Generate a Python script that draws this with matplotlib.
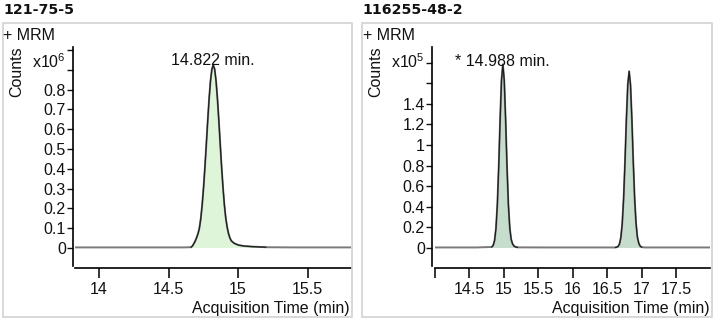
"""
Two MRM chromatograms side by side (121-75-5 and 116255-48-2)
"""

import matplotlib
matplotlib.use('Agg')
import matplotlib.pyplot as plt
from matplotlib.patches import Rectangle

# Chromatogram 1: 121-75-5 (counts x10^6)
left_name = '121-75-5'
left_time = [13.82, 14.30, 14.60, 14.662, 14.672, 14.682, 14.692, 14.702, 14.712, 14.722,
             14.732, 14.742, 14.752, 14.762, 14.772, 14.782, 14.792, 14.802, 14.812, 14.822,
             14.832, 14.842, 14.852, 14.862, 14.872, 14.882, 14.892, 14.902, 14.912, 14.922,
             14.932, 14.942, 14.952, 14.972, 15.002, 15.042, 15.10, 15.20, 15.40, 15.82]
left_counts = [0.003, 0.003, 0.003, 0.004, 0.010, 0.022, 0.035, 0.052, 0.072, 0.100,
               0.148, 0.217, 0.305, 0.409, 0.525, 0.643, 0.754, 0.844, 0.903, 0.924,
               0.903, 0.844, 0.754, 0.643, 0.525, 0.409, 0.305, 0.217, 0.150, 0.105,
               0.072, 0.050, 0.036, 0.024, 0.015, 0.010, 0.007, 0.004, 0.003, 0.003]
left_rt = 14.822
left_label = '14.822 min.'
left_xticks = [14, 14.5, 15, 15.5]
left_xticklabels = ['14', '14.5', '15', '15.5']
left_yticks = [0, 0.1, 0.2, 0.3, 0.4, 0.5, 0.6, 0.7, 0.8, 0.9, 1.0]
left_yticklabels = ['0', '0.1', '0.2', '0.3', '0.4', '0.5', '0.6', '0.7', '0.8', '', '']

# Chromatogram 2: 116255-48-2 (counts x10^5)
right_name = '116255-48-2'
right_time = [14.0, 14.6, 14.828, 14.848, 14.868, 14.888, 14.908, 14.928, 14.948, 14.968,
              14.988, 15.008, 15.028, 15.048, 15.068, 15.088, 15.108, 15.128, 15.148, 15.168,
              15.20, 15.6, 16.2, 16.62, 16.638, 16.658, 16.678, 16.698, 16.718, 16.738,
              16.758, 16.778, 16.798, 16.818, 16.838, 16.858, 16.878, 16.898, 16.918, 16.938,
              16.958, 16.978, 17.00, 17.05, 18.0]
right_counts = [0.005, 0.005, 0.010, 0.026, 0.073, 0.190, 0.422, 0.792, 1.242, 1.628,
                1.782, 1.628, 1.242, 0.792, 0.422, 0.195, 0.085, 0.040, 0.020, 0.011,
                0.006, 0.005, 0.005, 0.005, 0.008, 0.015, 0.039, 0.101, 0.236, 0.480,
                0.837, 1.247, 1.583, 1.715, 1.583, 1.247, 0.837, 0.480, 0.240, 0.105,
                0.045, 0.018, 0.008, 0.005, 0.005]
right_rt = 14.988
right_label = '* 14.988 min.'
right_xticks = [14, 14.5, 15, 15.5, 16, 16.5, 17, 17.5]
right_xticklabels = ['', '14.5', '15', '15.5', '16', '16.5', '17', '17.5']
right_yticks = [0, 0.2, 0.4, 0.6, 0.8, 1.0, 1.2, 1.4, 1.6, 1.8]
right_yticklabels = ['0', '0.2', '0.4', '0.6', '0.8', '1', '1.2', '1.4', '', '']

W, H = 717, 323
plt.rcParams['font.family'] = ['Liberation Sans', 'DejaVu Sans']
plt.rcParams['font.size'] = 11.5
text_color = '#111111'


def px(x, y):
    """ Pixel position (from top-left) to figure fraction """
    return x / W, 1 - y / H


def draw_trace(ax, t, c, fill_color, peak_ranges):
    # Baseline / full trace in grey
    ax.plot(t, c, '-', color='#7a7a7a', linewidth=1.4, zorder=2)
    base = min(c)
    for t0, t1 in peak_ranges:
        seg_t = [ti for ti in t if t0 <= ti <= t1]
        seg_c = [ci for ti, ci in zip(t, c) if t0 <= ti <= t1]
        ax.fill_between(seg_t, base, seg_c, color=fill_color, linewidth=0, zorder=1)
        ax.plot(seg_t, seg_c, '-', color='#1e1e1e', linewidth=0.9, zorder=3)


def style_axes(ax, xlim, ylim, xticks, xticklabels, yticks, yticklabels, left_out):
    ax.set_xlim(*xlim)
    ax.set_ylim(*ylim)
    for side in ['top', 'right']:
        ax.spines[side].set_visible(False)
    ax.spines['left'].set_position(('outward', left_out))
    ax.spines['bottom'].set_position(('outward', 1.4))
    for side in ['left', 'bottom']:
        ax.spines[side].set_linewidth(1.2)
    ax.set_xticks(xticks)
    ax.set_xticklabels(xticklabels)
    ax.set_yticks(yticks)
    ax.set_yticklabels(yticklabels)
    ax.tick_params(axis='x', direction='out', length=7, width=1.2, pad=3, colors=text_color)
    ax.tick_params(axis='y', direction='out', length=4.3, width=1.0, pad=1, colors=text_color)
    ax.patch.set_alpha(0)


fig = plt.figure(figsize=(W / 100, H / 100), dpi=100)

# Panel frames
for x0, x1 in [(2.7, 352.3), (361.7, 711.7)]:
    fig.patches.append(Rectangle(px(x0, 317.3), (x1 - x0) / W, (317.3 - 22.7) / H,
                                 transform=fig.transFigure, fill=False,
                                 edgecolor='#d2d2d2', linewidth=1.2))

# Left chromatogram
l0, b0 = px(75, 266)
ax1 = fig.add_axes([l0, b0, 276 / W, (266 - 46.7) / H])
draw_trace(ax1, left_time, left_counts, '#def5da', [(14.66, 15.20)])
style_axes(ax1, (13.827, 15.813), (-0.0909, 1.0167), left_xticks, left_xticklabels,
           left_yticks, left_yticklabels, 1.2)
ax1.annotate(left_label, xy=(left_rt, max(left_counts)), xytext=(0, 3.6),
             textcoords='offset points', ha='center', va='center', color=text_color)

# Right chromatogram
l0, b0 = px(434.7, 266)
ax2 = fig.add_axes([l0, b0, 275.3 / W, (266 - 46.7) / H])
draw_trace(ax2, right_time, right_counts, '#c6dccc', [(14.82, 15.20), (16.62, 17.00)])
style_axes(ax2, (14.0, 17.99), (-0.175, 1.954), right_xticks, right_xticklabels,
           right_yticks, right_yticklabels, 1.7)
ax2.annotate(right_label, xy=(right_rt, max(right_counts)), xytext=(0, 2.2),
             textcoords='offset points', ha='center', va='center', color=text_color)

# Titles, scan type, axis labels
for x_off, name, exponent, x_exp, x_right in [(0, left_name, '6', 31.7, 350),
                                               (359.5, right_name, '5', 390.7, 709.3)]:
    fig.text(*px(3 + x_off, 10.5), name, family='DejaVu Sans', weight='bold',
             fontsize=10.2, va='center', ha='left', color=text_color)
    fig.text(*px(3.3 + x_off, 35.5), '+ MRM', va='center', ha='left', color=text_color)
    fig.text(*px(16.7 + x_off, 72), 'Counts', rotation=90, va='center', ha='center',
             color=text_color)
    fig.text(*px(x_exp, 62), r'$\mathregular{x10^{%s}}$' % exponent, va='center',
             ha='left', color=text_color)
    fig.text(*px(x_right, 308), 'Acquisition Time (min)', va='center', ha='right',
             color=text_color)

plt.savefig('out.png', dpi=100)
